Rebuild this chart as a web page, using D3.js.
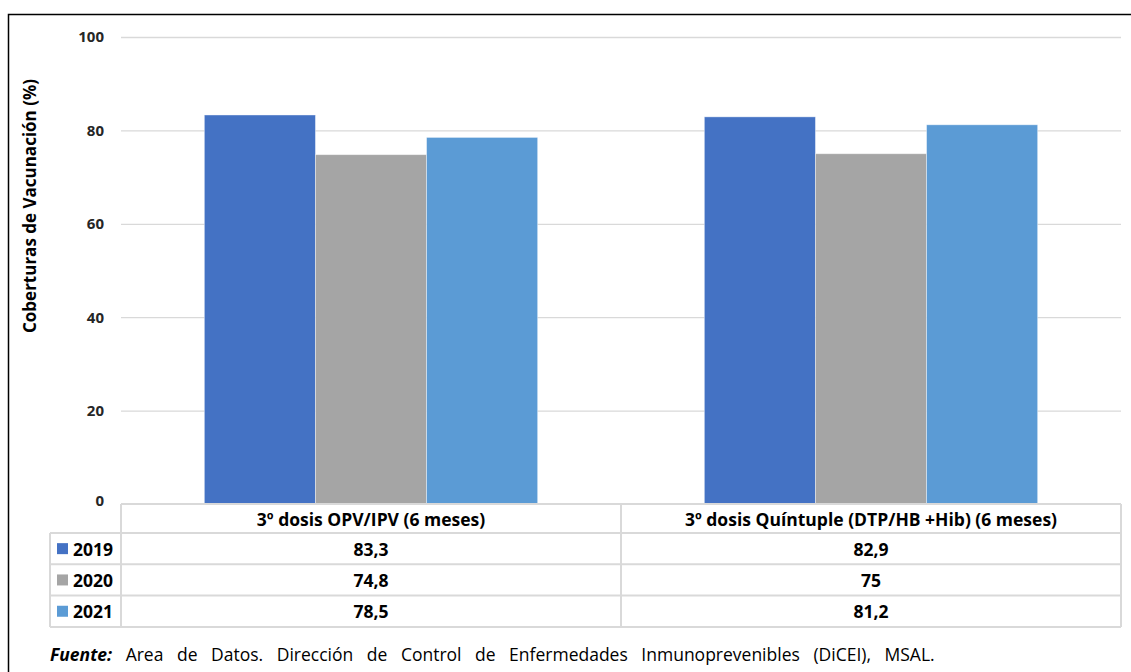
<!DOCTYPE html>
<html>
<head>
<meta charset="utf-8">
<script src="https://cdn.jsdelivr.net/npm/d3@7"></script>
<style>
    body { margin: 0; background: #fff; }
    svg { display: block; font-family: "Open Sans", sans-serif; }
</style>
</head>
<body>
<svg id="chart" width="1131" height="672"></svg>
<script>
/* global d3 : false */

const categories = ["3º dosis OPV/IPV (6 meses)", "3º dosis Quíntuple (DTP/HB +Hib) (6 meses)"];
const years = ["2019", "2020", "2021"];
const values2019 = [83.3, 82.9];
const values2020 = [74.8, 75];
const values2021 = [78.5, 81.2];
const yTicks = [0, 20, 40, 60, 80, 100];
const colors = ["#4472c4", "#a5a5a5", "#5b9bd5"];

const series = [values2019, values2020, values2021];
const fmt = v => String(v).replace(".", ",");

const svg = d3.select("#chart");
const plot = { left: 121, right: 1121, top: 37, bottom: 504 };

// outer frame
svg.append("rect")
    .attr("x", 8.5).attr("y", 14.5)
    .attr("width", 1140).attr("height", 700)
    .attr("fill", "none").attr("stroke", "#000").attr("stroke-width", 1.5);

const x = d3.scaleBand().domain(categories).range([plot.left, plot.right]);
const xInner = d3.scaleBand().domain(years).range([0, x.bandwidth()]).paddingOuter(0.75);
const y = d3.scaleLinear().domain([0, 100]).range([plot.bottom, plot.top]);

// gridlines + tick labels
const yAxis = svg.append("g")
    .attr("transform", `translate(${plot.left},0)`)
    .call(d3.axisLeft(y).tickValues(yTicks).tickSize(-(plot.right - plot.left)).tickPadding(17));
yAxis.select(".domain").remove();
yAxis.selectAll(".tick line").attr("stroke", "#d9d9d9").attr("stroke-width", 1.3)
    .filter(d => d === 0).remove();
yAxis.selectAll(".tick text")
    .attr("fill", "#262626").attr("font-size", 15).attr("font-weight", "bold")
    .attr("font-family", "'Open Sans', sans-serif")
    .attr("dy", d => d === 0 ? "0.1em" : "0.32em");

svg.append("text")
    .attr("transform", "translate(36,206) rotate(-90)")
    .attr("text-anchor", "middle")
    .attr("font-size", 17).attr("font-weight", "bold").attr("fill", "#000")
    .text("Coberturas de Vacunación (%)");

// bars
const groups = svg.append("g").selectAll("g")
    .data(categories)
    .join("g")
    .attr("transform", d => `translate(${x(d)},0)`);

groups.selectAll("rect")
    .data((c, i) => years.map((yr, j) => ({ yr, v: series[j][i], j })))
    .join("rect")
    .attr("x", d => xInner(d.yr))
    .attr("width", xInner.bandwidth())
    .attr("y", d => y(d.v))
    .attr("height", d => y(0) - y(d.v))
    .attr("fill", d => colors[d.j])
    .attr("stroke", "rgba(255,255,255,0.5)").attr("stroke-width", 0.8);

// data table
const tbl = { left: 50, top: 504, header: 29, row: 31.3 };
const gridColor = "#d9d9d9";
const table = svg.append("g");
const rowsBottom = tbl.top + tbl.header + tbl.row * years.length;

// horizontal lines
table.append("line")
    .attr("x1", plot.left).attr("x2", plot.right)
    .attr("y1", tbl.top).attr("y2", tbl.top);
[0, 1, 2, 3].forEach(k => {
    const yy = tbl.top + tbl.header + tbl.row * k;
    table.append("line").attr("x1", tbl.left).attr("x2", plot.right).attr("y1", yy).attr("y2", yy);
});
// vertical lines
table.append("line").attr("x1", tbl.left).attr("x2", tbl.left)
    .attr("y1", tbl.top + tbl.header).attr("y2", rowsBottom);
categories.forEach(c => {
    table.append("line").attr("x1", x(c)).attr("x2", x(c))
        .attr("y1", tbl.top).attr("y2", rowsBottom);
});
table.append("line").attr("x1", plot.right).attr("x2", plot.right)
    .attr("y1", tbl.top).attr("y2", rowsBottom);
table.selectAll("line").attr("stroke", gridColor).attr("stroke-width", 2);

const textStyle = sel => sel
    .attr("font-size", 17.5).attr("font-weight", "bold").attr("fill", "#000")
    .attr("dominant-baseline", "central");

table.selectAll("text.head")
    .data(categories)
    .join("text")
    .attr("class", "head")
    .attr("x", d => x(d) + x.bandwidth() / 2)
    .attr("y", tbl.top + tbl.header / 2)
    .attr("text-anchor", "middle")
    .call(textStyle)
    .text(d => d);

years.forEach((yr, j) => {
    const cy = tbl.top + tbl.header + tbl.row * j + tbl.row / 2;
    table.append("rect")
        .attr("x", 57).attr("y", cy - 5.5).attr("width", 11).attr("height", 11)
        .attr("fill", colors[j]);
    table.append("text").attr("x", 73).attr("y", cy).call(textStyle).text(yr);
    categories.forEach((c, i) => {
        table.append("text")
            .attr("x", x(c) + x.bandwidth() / 2).attr("y", cy)
            .attr("text-anchor", "middle")
            .call(textStyle)
            .text(fmt(series[j][i]));
    });
});

// source note
const note = svg.append("text")
    .attr("x", 50).attr("y", 661)
    .attr("font-size", 17.5).attr("fill", "#000")
    .attr("word-spacing", 9);
note.append("tspan").attr("font-weight", "bold").attr("font-style", "italic").text("Fuente:");
note.append("tspan").text(" Area de Datos. Dirección de Control de Enfermedades Inmunoprevenibles (DiCEI), MSAL.");
</script>
</body>
</html>
